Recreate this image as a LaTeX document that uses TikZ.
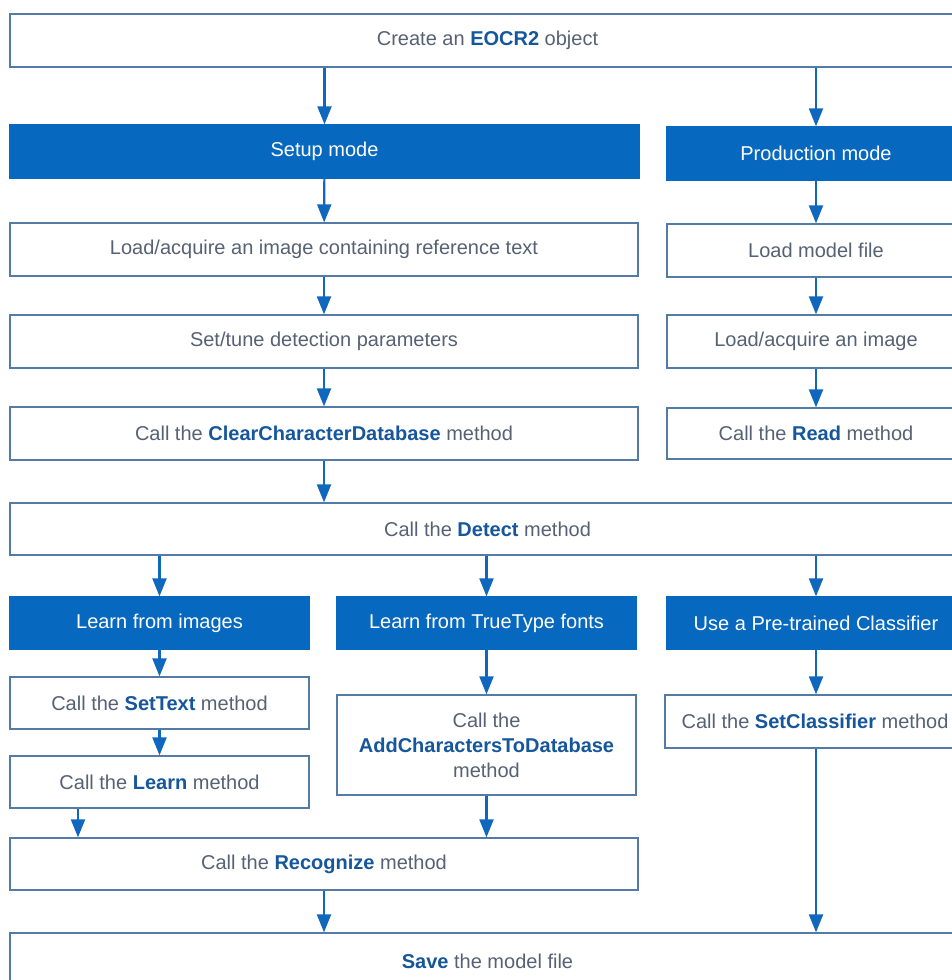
\documentclass[tikz,border=0pt]{standalone}
\usepackage{fontspec}
\setmainfont{Liberation Sans}
\usetikzlibrary{arrows.meta}
\definecolor{modeblue}{RGB}{6,104,190}
\definecolor{edgeblue}{RGB}{84,122,166}
\definecolor{textgray}{RGB}{86,98,116}
\definecolor{kwblue}{RGB}{22,86,156}
\definecolor{arrowblue}{RGB}{16,104,190}
\newcommand\kw[1]{\textcolor{kwblue}{\textbf{#1}}}
\tikzset{
  box/.style={draw=edgeblue, line width=1.3pt, fill=white, text=textgray,
    font=\fontsize{20}{25}\selectfont, inner sep=0pt, align=center},
  modebox/.style={box, draw=modeblue, fill=modeblue, text=white},
  arr/.style={draw=arrowblue, line width=2.2pt, -{Triangle[length=18pt,width=14pt]}}
}
\begin{document}
\begin{tikzpicture}[x=1pt,y=-1pt]
\clip (0,0) rectangle (952,980);
\fill[white] (0,0) rectangle (952,980);
% boxes
\node[box, minimum width=955pt, minimum height=53pt] (top) at (487.5,40.5) {Create an \kw{EOCR2} object};
\node[modebox, minimum width=629pt, minimum height=53pt] (setup) at (324.5,151.5) {Setup mode};
\node[modebox, minimum width=298pt, minimum height=53pt] (prod) at (816,153.5) {Production mode};
\node[box, minimum width=628pt, minimum height=53pt] (loadref) at (324,249.5) {Load/acquire an image containing reference text};
\node[box, minimum width=298pt, minimum height=53pt] (loadmodel) at (816,250.5) {Load model file};
\node[box, minimum width=628pt, minimum height=53pt] (settune) at (324,341.5) {Set/tune detection parameters};
\node[box, minimum width=298pt, minimum height=53pt] (loadimg) at (816,341.5) {Load/acquire an image};
\node[box, minimum width=628pt, minimum height=53pt] (clear) at (324,433.5) {Call the \kw{ClearCharacterDatabase} method};
\node[box, minimum width=298pt, minimum height=51pt] (read) at (816,433.5) {Call the \kw{Read} method};
\node[box, minimum width=955pt, minimum height=52pt] (detect) at (487.5,529) {Call the \kw{Detect} method};
\node[modebox, minimum width=299pt, minimum height=52pt] (limg) at (159.5,623) {Learn from images};
\node[modebox, minimum width=299pt, minimum height=52pt] (ltt) at (486.5,623) {Learn from TrueType fonts};
\node[modebox, minimum width=298pt, minimum height=52pt] (pre) at (816,623) {Use a Pre-trained Classifier};
\node[box, minimum width=299pt, minimum height=52pt] (settext) at (159.5,703) {Call the \kw{SetText} method};
\node[box, minimum width=299pt, minimum height=52pt] (learn) at (159.5,782) {Call the \kw{Learn} method};
\node[box, minimum width=299pt, minimum height=100pt] (add) at (486.5,745) {Call the\\\kw{AddCharactersToDatabase}\\method};
\node[box, minimum width=300pt, minimum height=53pt] (setcls) at (815,721.5) {Call the \kw{SetClassifier} method};
\node[box, minimum width=628pt, minimum height=52pt] (rec) at (324,864) {Call the \kw{Recognize} method};
\node[box, minimum width=955pt, minimum height=57pt] (save) at (487.5,961.5) {\kw{Save} the model file};
\coordinate (lx) at (78,0);
% arrows
\draw[arr] (top.south -| setup.north) -- (setup.north);
\draw[arr] (top.south -| prod.north) -- (prod.north);
\draw[arr] (setup) -- (loadref);
\draw[arr] (loadref) -- (settune);
\draw[arr] (settune) -- (clear);
\draw[arr] (prod) -- (loadmodel);
\draw[arr] (loadmodel) -- (loadimg);
\draw[arr] (loadimg) -- (read);
\draw[arr] (clear.south) -- (clear.south |- detect.north);
\draw[arr] (detect.south -| limg.north) -- (limg.north);
\draw[arr] (detect.south -| ltt.north) -- (ltt.north);
\draw[arr] (detect.south -| pre.north) -- (pre.north);
\draw[arr] (limg) -- (settext);
\draw[arr] (settext) -- (learn);
\draw[arr] (ltt) -- (add);
\draw[arr] (pre.south) -- (pre.south |- setcls.north);
\draw[arr] (learn.south -| lx) -- (rec.north -| lx);
\draw[arr] (add.south) -- (add.south |- rec.north);
\draw[arr] (rec.south) -- (rec.south |- save.north);
\draw[arr] (setcls.south -| pre.south) -- (save.north -| pre.south);
\end{tikzpicture}
\end{document}
